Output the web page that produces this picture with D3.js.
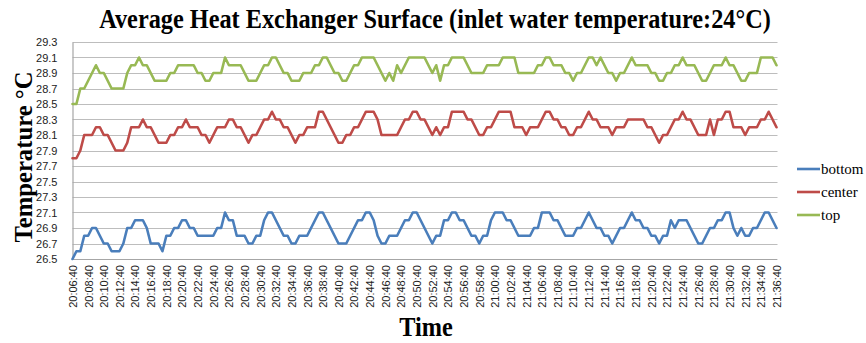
<!DOCTYPE html>
<html><head><meta charset="utf-8">
<script src="https://cdn.jsdelivr.net/npm/d3@7"></script>
<style>body{margin:0;background:#fff}svg{display:block}</style>
</head><body>
<svg id="chart" width="866" height="343"></svg>
<script>
const title = "Average Heat Exchanger Surface (inlet water temperature:24°C)";
const tickLabels = ["20:06:40","20:08:40","20:10:40","20:12:40","20:14:40","20:16:40","20:18:40","20:20:40","20:22:40","20:24:40","20:26:40","20:28:40","20:30:40","20:32:40","20:34:40","20:36:40","20:38:40","20:40:40","20:42:40","20:44:40","20:46:40","20:48:40","20:50:40","20:52:40","20:54:40","20:56:40","20:58:40","21:00:40","21:02:40","21:04:40","21:06:40","21:08:40","21:10:40","21:12:40","21:14:40","21:16:40","21:18:40","21:20:40","21:22:40","21:24:40","21:26:40","21:28:40","21:30:40","21:32:40","21:34:40","21:36:40"];
const samplesPerLabel = 4; // 30 s samples, label every 2 min
const yTicks = [26.5,26.7,26.9,27.1,27.3,27.5,27.7,27.9,28.1,28.3,28.5,28.7,28.9,29.1,29.3];
const seriesNames = ["bottom","center","top"];
const seriesColors = ["#4a7ebb","#be4b48","#98b954"];

const bottom = [26.5,26.6,26.6,26.8,26.8,26.9,26.9,26.8,26.7,26.7,
26.6,26.6,26.6,26.7,26.9,26.9,27.0,27.0,27.0,26.9,
26.7,26.7,26.7,26.6,26.8,26.8,26.9,26.9,27.0,27.0,
26.9,26.9,26.8,26.8,26.8,26.8,26.8,26.9,26.9,27.1,
27.0,27.0,26.8,26.8,26.8,26.7,26.7,26.8,26.8,27.0,
27.1,27.1,27.0,26.9,26.8,26.8,26.7,26.7,26.8,26.8,
26.8,26.9,27.0,27.1,27.1,27.0,26.9,26.8,26.7,26.7,
26.7,26.8,26.9,27.0,27.0,27.1,27.1,27.0,26.8,26.7,
26.7,26.8,26.8,26.8,26.9,27.0,27.0,27.1,27.1,27.0,
26.9,26.8,26.7,26.8,26.8,27.0,27.0,27.1,27.1,27.0,
27.0,26.9,26.8,26.8,26.7,26.8,26.8,27.0,27.1,27.1,
27.1,27.0,27.0,26.9,26.8,26.8,26.8,26.8,26.9,26.9,
27.1,27.1,27.1,27.0,27.0,26.9,26.8,26.8,26.8,26.9,
26.9,27.0,27.1,27.0,26.9,26.9,26.8,26.8,26.7,26.8,
26.9,26.9,27.0,27.1,27.0,27.0,26.9,26.9,26.8,26.8,
26.7,26.8,26.8,27.0,26.9,27.0,27.0,27.0,26.9,26.8,
26.7,26.7,26.8,26.9,26.9,27.0,27.0,27.1,27.1,26.9,
26.8,26.9,26.8,26.8,26.9,26.9,27.0,27.1,27.1,27.0,26.9];

const center = [27.8,27.8,27.9,28.1,28.1,28.1,28.2,28.2,28.1,28.1,
28.0,27.9,27.9,27.9,28.0,28.2,28.2,28.2,28.3,28.2,
28.2,28.1,28.0,28.0,28.0,28.1,28.1,28.2,28.2,28.3,
28.2,28.2,28.2,28.1,28.1,28.0,28.1,28.2,28.2,28.2,
28.3,28.3,28.2,28.2,28.1,28.0,28.1,28.1,28.2,28.3,
28.3,28.4,28.3,28.3,28.2,28.2,28.1,28.0,28.1,28.1,
28.2,28.2,28.2,28.4,28.4,28.3,28.2,28.1,28.0,28.0,
28.1,28.1,28.2,28.2,28.3,28.4,28.4,28.4,28.3,28.1,
28.1,28.1,28.1,28.1,28.2,28.3,28.3,28.4,28.4,28.3,
28.3,28.2,28.1,28.2,28.1,28.2,28.2,28.4,28.4,28.4,
28.4,28.3,28.3,28.2,28.1,28.1,28.2,28.2,28.3,28.4,
28.4,28.4,28.4,28.2,28.2,28.2,28.1,28.2,28.2,28.2,
28.3,28.4,28.4,28.3,28.3,28.2,28.2,28.1,28.1,28.2,
28.2,28.3,28.4,28.3,28.3,28.2,28.2,28.2,28.1,28.2,
28.2,28.2,28.3,28.3,28.3,28.3,28.3,28.2,28.2,28.1,
28.0,28.1,28.1,28.2,28.3,28.3,28.4,28.3,28.3,28.2,
28.1,28.1,28.1,28.3,28.1,28.3,28.3,28.4,28.4,28.2,
28.2,28.2,28.1,28.2,28.2,28.2,28.3,28.3,28.4,28.3,28.2];

const top_ = [28.5,28.5,28.7,28.7,28.8,28.9,29.0,28.9,28.9,28.8,
28.7,28.7,28.7,28.7,28.9,29.0,29.0,29.1,29.0,29.0,
28.9,28.8,28.8,28.8,28.8,28.9,28.9,29.0,29.0,29.0,
29.0,29.0,28.9,28.9,28.8,28.8,28.9,28.9,28.9,29.1,
29.0,29.0,29.0,29.0,28.9,28.8,28.8,28.8,28.9,29.0,
29.0,29.1,29.1,29.0,28.9,28.9,28.8,28.8,28.8,28.9,
28.9,28.9,29.0,29.0,29.1,29.1,29.0,28.9,28.9,28.8,
28.8,28.9,29.0,29.0,29.1,29.1,29.1,29.1,29.0,28.9,
28.8,28.9,28.8,29.0,28.9,29.0,29.1,29.1,29.1,29.1,
29.1,29.0,28.9,29.0,28.8,29.0,29.0,29.1,29.1,29.1,
29.1,29.0,28.9,28.9,28.9,28.9,29.0,29.0,29.0,29.0,
29.1,29.1,29.1,29.1,28.9,28.9,28.9,28.9,28.9,29.0,
29.0,29.1,29.1,29.0,29.0,29.0,28.9,28.9,28.8,28.9,
28.9,29.0,29.1,29.1,29.0,29.1,29.0,28.9,28.9,28.8,
28.9,28.9,29.0,29.1,29.0,29.0,29.0,29.0,28.9,28.9,
28.8,28.8,28.9,28.9,29.0,29.0,29.1,29.0,29.0,29.0,
28.9,28.8,28.8,28.9,29.0,29.0,29.0,29.1,29.0,29.0,
28.9,28.8,28.8,28.9,28.9,28.9,29.1,29.1,29.1,29.1,29.0];

const seriesData = [bottom, center, top_];

const svg = d3.select("#chart");
svg.append("rect").attr("width",866).attr("height",343).attr("fill","#fff");

const nPts = bottom.length;
const x = d3.scaleLinear().domain([0, nPts-1]).range([72.5, 776.5]);
const y = d3.scaleLinear().domain([26.5, 29.3]).range([259, 42]);

// gridlines
svg.append("g").selectAll("line").data(yTicks).join("line")
  .attr("x1", x(0)).attr("x2", x(nPts-1)+1)
  .attr("y1", d=>Math.round(y(d))+0.5).attr("y2", d=>Math.round(y(d))+0.5)
  .attr("stroke", "#bdbdbd").attr("stroke-width", 1.2);

// y axis
const yAxis = d3.axisLeft(y).tickValues(yTicks).tickFormat(d3.format(".1f")).tickSize(0).tickPadding(15);
const gy = svg.append("g").attr("transform", `translate(${x(0)},0)`).call(yAxis);
gy.select(".domain").attr("stroke","#a6a6a6").attr("stroke-width",1.2);
gy.selectAll("text").attr("font-family","'Liberation Sans', Arial, sans-serif").attr("font-size",11).attr("fill","#222");

// x axis
const xAxis = d3.axisBottom(x)
  .tickValues(tickLabels.map((d,i)=>i*samplesPerLabel))
  .tickFormat((d,i)=>tickLabels[i]).tickSize(0);
const gx = svg.append("g").attr("transform", `translate(0,${y(26.5)})`).call(xAxis);
gx.select(".domain").attr("stroke","#a6a6a6").attr("stroke-width",1.2);
gx.selectAll("text")
  .attr("font-family","'Liberation Sans', Arial, sans-serif").attr("font-size",11).attr("fill","#222")
  .attr("transform","rotate(-90)").attr("text-anchor","end")
  .attr("x",-6).attr("y",0).attr("dy","0.35em");

// lines
const line = d3.line().x((d,i)=>x(i)).y(d=>y(d));
seriesData.forEach((s,k)=>{
  svg.append("path").datum(s).attr("d", line)
    .attr("fill","none").attr("stroke", seriesColors[k]).attr("stroke-width", 2.6)
    .attr("stroke-linejoin","round").attr("stroke-linecap","round");
});

const serif = "'Liberation Serif', 'Times New Roman', serif";
// title (condensed tall serif like the reference)
svg.append("text").attr("transform","translate(435,28) scale(0.9,1)").attr("text-anchor","middle")
  .attr("font-family",serif).attr("font-weight","bold")
  .attr("font-size",27).attr("fill","#000").text(title);

// axis titles
svg.append("text").attr("transform","translate(32,157) rotate(-90) scale(0.95,1)").attr("text-anchor","middle")
  .attr("font-family",serif).attr("font-weight","bold")
  .attr("font-size",26).attr("fill","#000").text("Temperature °C");
svg.append("text").attr("transform","translate(426,336) scale(0.9,1)").attr("text-anchor","middle")
  .attr("font-family",serif).attr("font-weight","bold")
  .attr("font-size",27).attr("fill","#000").text("Time");

// legend
const lg = svg.append("g");
seriesNames.forEach((n,k)=>{
  const yy = 169 + k*23;
  lg.append("line").attr("x1",797).attr("x2",820).attr("y1",yy).attr("y2",yy)
    .attr("stroke", seriesColors[k]).attr("stroke-width",2.6);
  lg.append("text").attr("x",821).attr("y",yy).attr("dy","0.35em")
    .attr("font-family",serif).attr("font-size",15)
    .attr("fill","#000").text(n);
});
</script>
</body></html>
